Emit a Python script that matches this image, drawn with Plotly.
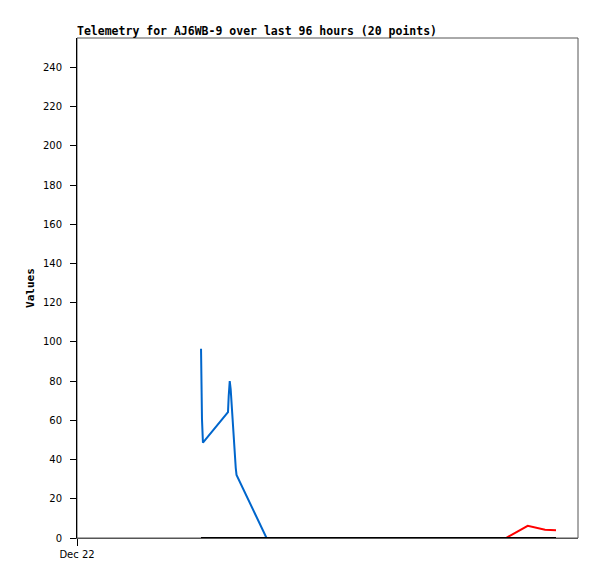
import plotly.graph_objects as go

# Timestamps (20 points)
times = [
    "2023-12-22 23:46", "2023-12-22 23:49", "2023-12-22 23:57", "2023-12-23 00:08",
    "2023-12-23 04:56", "2023-12-23 05:04", "2023-12-23 05:16", "2023-12-23 05:27",
    "2023-12-23 05:38", "2023-12-23 05:57", "2023-12-23 06:08", "2023-12-23 06:25",
    "2023-12-23 06:34", "2023-12-23 12:19", "2023-12-24 13:54", "2023-12-25 10:12",
    "2023-12-25 14:22", "2023-12-25 15:46", "2023-12-25 17:41", "2023-12-25 19:47",
]
blue_vals = [96.5, 84.3, 60.5, 48.6, 64.2, 72.3, 80.0, 75.8, 68.1, 51.9,
             43.5, 35.8, 32.2, 0, 0, 0, 0, 0, 0, 0]
red_vals = [0, 0, 0, 0, 0, 0, 0, 0, 0, 0,
            0, 0, 0, 0, 0, 0, 6.2, 5.3, 4.2, 4.0]
black_vals = [0] * 20

title_text = "Telemetry for AJ6WB-9 over last 96 hours (20 points)"
y_title = "Values"
y_ticks = list(range(0, 241, 20))
x_range = ["2023-12-22 00:00", "2023-12-26 00:00"]
x_tickvals = ["2023-12-22 00:00"]
x_ticktext = ["Dec 22"]

W, H = 589, 571  # page body has an 8px margin

fig = go.Figure()
fig.add_trace(go.Scatter(x=times, y=blue_vals, mode="lines",
                         line=dict(color="#0066cc", width=2), showlegend=False))
fig.add_trace(go.Scatter(x=times, y=red_vals, mode="lines",
                         line=dict(color="#ff0000", width=2), showlegend=False))
fig.add_trace(go.Scatter(x=times, y=black_vals, mode="lines",
                         line=dict(color="#000000", width=2), showlegend=False))

fig.add_shape(type="rect", xref="paper", yref="paper", x0=0, y0=0, x1=1, y1=1,
              line=dict(color="#555555", width=1), layer="below")

fig.update_layout(
    width=W, height=H,
    margin=dict(l=69, r=19, t=30, b=41),
    paper_bgcolor="white", plot_bgcolor="white",
    title=dict(text="<b>" + title_text + "</b>", x=69 / W, xanchor="left",
               y=1 - 23 / H, yanchor="middle",
               font=dict(family="DejaVu Sans Mono", size=11.5, color="black")),
    xaxis=dict(type="date", range=x_range, tickvals=x_tickvals, ticktext=x_ticktext,
               showgrid=False, zeroline=False, showline=True, linecolor="#555555",
               linewidth=1, ticks="outside", ticklen=7, tickcolor="black",
               tickfont=dict(family="DejaVu Sans", size=10, color="black")),
    yaxis=dict(range=[0, 255], tickvals=y_ticks, showgrid=False, zeroline=False,
               showline=True, linecolor="black", linewidth=1,
               ticks="outside", ticklen=6, tickcolor="black",
               ticklabelstandoff=6,
               tickfont=dict(family="DejaVu Sans", size=10, color="black"),
               title=dict(text="<b>" + y_title + "</b>", standoff=6,
                          font=dict(family="DejaVu Sans Mono", size=11, color="black"))),
)

fig.write_html("out.html")
